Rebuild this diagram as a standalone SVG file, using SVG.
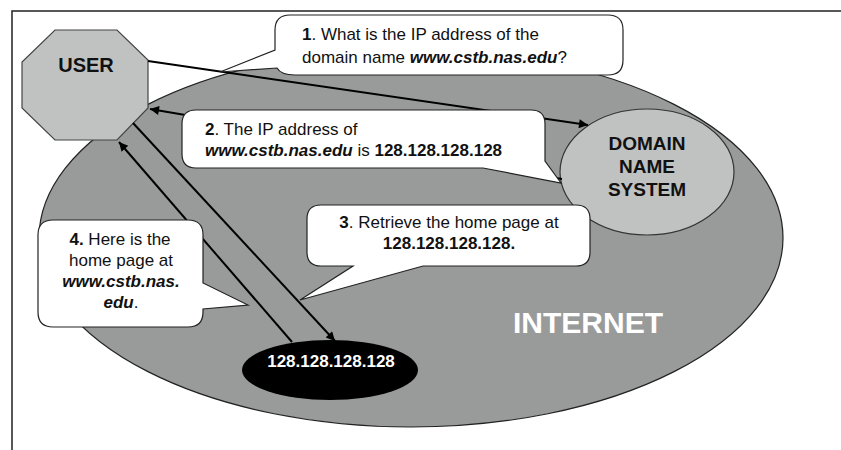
<svg xmlns="http://www.w3.org/2000/svg" width="841" height="450" viewBox="0 0 841 450">
<style>
text{font-family:"Liberation Sans",Arial,sans-serif;fill:#111}
.t{font-size:17px}
.b{font-weight:bold}
.bi{font-weight:bold;font-style:italic}
.bub{fill:#fff;stroke:#222;stroke-width:1.2}
.lbl{font-size:19px;font-weight:bold;text-anchor:middle}
.con{stroke:#000;stroke-width:2;fill:none}
</style>
<defs>
<marker id="ah" viewBox="0 0 10 10" refX="10" refY="5" markerUnits="userSpaceOnUse" markerWidth="12" markerHeight="9" orient="auto"><path d="M0,0 L10,5 L0,10 z" fill="#000"/></marker>
</defs>
<rect width="841" height="450" fill="#fff"/>
<path d="M12,450 V11 H841" fill="none" stroke="#222" stroke-width="1.5"/>
<g id="internet">
<ellipse cx="411" cy="238" rx="372" ry="189" fill="#999b9b" stroke="#222" stroke-width="1.2"/>
<text x="513" y="333" style="font-size:30px;font-weight:bold;fill:#fff">INTERNET</text>
</g>
<g id="dns">
<ellipse cx="647" cy="172" rx="87" ry="63" fill="#c0c2c2" stroke="#333" stroke-width="1.2"/>
<text class="lbl" x="647" y="150">DOMAIN</text>
<text class="lbl" x="647" y="173">NAME</text>
<text class="lbl" x="647" y="196">SYSTEM</text>
</g>
<g id="server">
<ellipse cx="330" cy="370" rx="88" ry="30" fill="#000"/>
<text x="331" y="367" style="font-size:17px;font-weight:bold;fill:#fff;text-anchor:middle">128.128.128.128</text>
</g>
<g id="user">
<polygon points="55,30 117,30 148,60 148,108 117,140 55,140 22,108 22,62" fill="#c0c2c2" stroke="#444" stroke-width="1.2"/>
<text x="86" y="72" style="font-size:20px;font-weight:bold;text-anchor:middle">USER</text>
</g>
<g id="connectors">
<line class="con" x1="148" y1="61" x2="588" y2="125" marker-end="url(#ah)"/>
<line class="con" x1="562" y1="179" x2="150" y2="109" marker-end="url(#ah)"/>
<line class="con" x1="292" y1="342" x2="119" y2="142" marker-end="url(#ah)"/>
<line class="con" x1="133" y1="123" x2="335" y2="341" marker-end="url(#ah)"/>
</g>
<g id="callout1">
<path class="bub" d="M290,15 H608 Q623,15 623,30 V60 Q623,75 608,75 H295 Q281,75 277,68 L220,72 L275,50 V30 Q275,15 290,15 Z"/>
<text class="t" x="302" y="40"><tspan class="b">1</tspan>. What is the IP address of the</text>
<text class="t" x="302" y="63">domain name <tspan class="bi">www.cstb.nas.edu</tspan>?</text>
</g>
<g id="callout2">
<path class="bub" d="M196,110 H531 Q545,110 545,124 V161 L561,183 L483,168 H196 Q182,168 182,154 V124 Q182,110 196,110 Z"/>
<text class="t" x="205" y="135"><tspan class="b">2</tspan>. The IP address of</text>
<text class="t" x="205" y="156"><tspan class="bi">www.cstb.nas.edu</tspan> is <tspan class="b">128.128.128.128</tspan></text>
</g>
<g id="callout3">
<path class="bub" d="M321,205 H576 Q590,205 590,219 V252 Q590,266 576,266 H423 L300,300 L353,266 H321 Q307,266 307,252 V219 Q307,205 321,205 Z"/>
<text class="t" x="449" y="228" text-anchor="middle"><tspan class="b">3</tspan>. Retrieve the home page at</text>
<text class="t b" x="449" y="249" text-anchor="middle">128.128.128.128.</text>
</g>
<g id="callout4">
<path class="bub" d="M53,220 H188 Q203,220 203,235 V283 L248,305 L203,309 V312 Q203,327 188,327 H53 Q38,327 38,312 V235 Q38,220 53,220 Z"/>
<text class="t" x="120" y="245" text-anchor="middle"><tspan class="b">4.</tspan> Here is the</text>
<text class="t" x="121" y="266" text-anchor="middle">home page at</text>
<text class="t bi" x="121" y="287" text-anchor="middle">www.cstb.nas.</text>
<text class="t" x="121" y="308" text-anchor="middle"><tspan class="bi">edu</tspan>.</text>
</g>
</svg>
